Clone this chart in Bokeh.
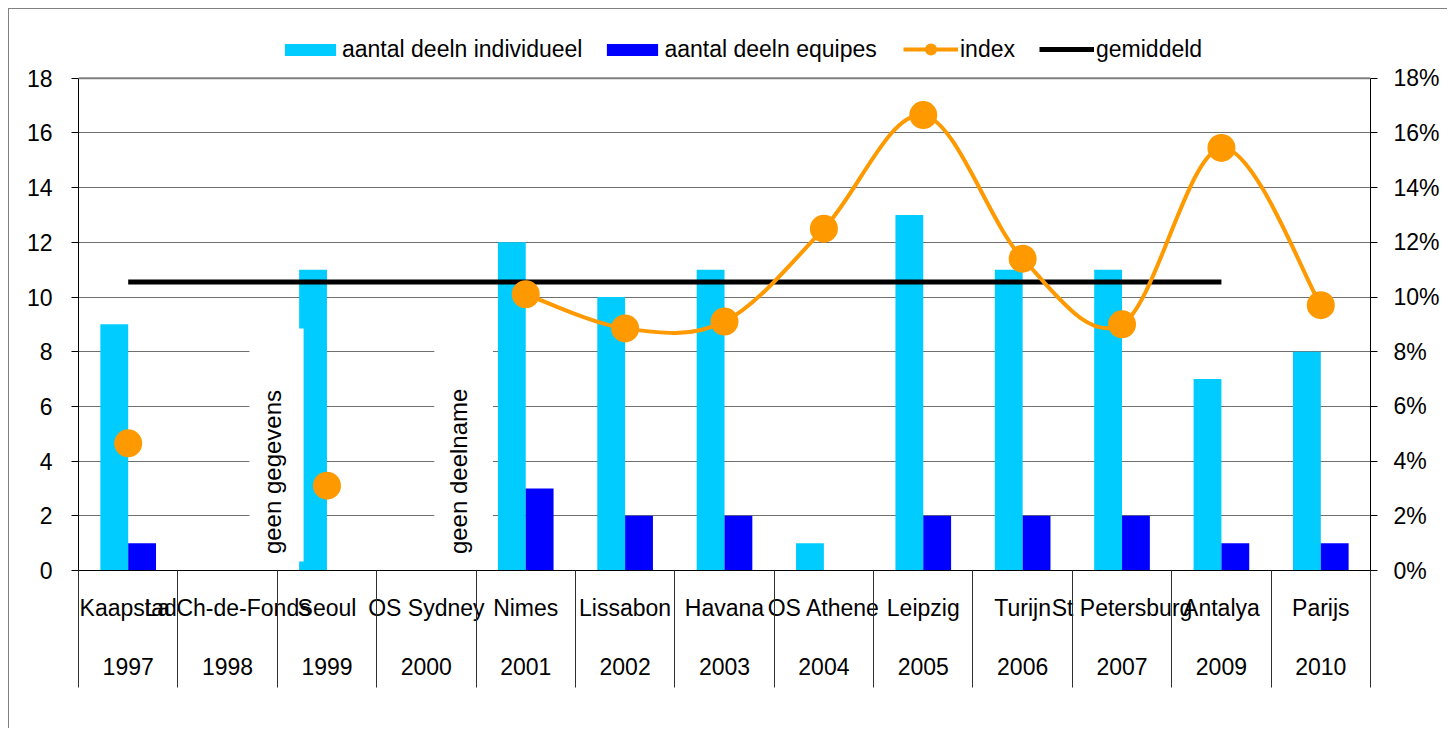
import numpy as np
from bokeh.plotting import figure
from bokeh.models import (Range1d, LinearAxis, FixedTicker, PrintfTickFormatter, Span,
                          ColumnDataSource, Label, BoxAnnotation, Legend, LegendItem)
from bokeh.transform import dodge
from bokeh.embed import file_html
from bokeh.resources import INLINE

# ---------------- data ----------------
cities = ["Kaapstad", "La Ch-de-Fonds", "Seoul", "OS Sydney", "Nimes", "Lissabon", "Havana",
          "OS Athene", "Leipzig", "Turijn", "St Petersburg", "Antalya", "Parijs"]
years = ["1997", "1998", "1999", "2000", "2001", "2002", "2003", "2004", "2005", "2006",
         "2007", "2009", "2010"]
individueel = [9, None, 11, None, 12, 10, 11, 1, 13, 11, 11, 7, 8]
equipes = [1, None, 0, None, 3, 2, 2, 0, 2, 2, 2, 1, 1]
index_pct = [4.65, None, 3.1, None, 10.1, 8.85, 9.1, 12.5, 16.65, 11.4, 9.0, 15.45, 9.7]
gemiddeld = [10.55, 10.55, 10.55, 10.55, 10.55, 10.55, 10.55, 10.55, 10.55, 10.55, 10.55, 10.55, None]
left_ticks = [0, 2, 4, 6, 8, 10, 12, 14, 16, 18]
right_ticks = [0, 2, 4, 6, 8, 10, 12, 14, 16, 18]

FONT = "Liberation Sans"
FS = "23px"
C_IND = "#00CCFF"
C_EQ = "#0000FF"
C_IDX = "#FF9900"

n = len(cities)
xs = np.arange(n) + 0.5
centre_ticks = [float(x) for x in xs]
edge_ticks = list(range(n + 1))
Y_TOP = 18      # axis maximum
Y_ROOM = 20     # range end, leaves room for the legend inside the frame

p = figure(width=1439, height=720, x_range=Range1d(0, n), y_range=Range1d(0, Y_ROOM),
           output_backend="svg", toolbar_location=None,
           min_border_left=69, min_border_right=78, min_border_top=14, min_border_bottom=159,
           background_fill_color="white", border_fill_color="white")
p.styles = {"border-left": "1px solid #808080", "border-top": "1px solid #808080",
            "margin-left": "8px", "margin-top": "8px"}
p.outline_line_color = None
p.extra_y_ranges = {"pct": Range1d(0, Y_ROOM)}

# grid
p.xgrid.visible = False
p.ygrid.ticker = FixedTicker(ticks=left_ticks)
p.ygrid.grid_line_color = "#707070"
p.ygrid.grid_line_width = 1
p.add_layout(Span(location=Y_TOP, dimension="width", line_color="#808080", line_width=2))

def style_axis(ax, standoff):
    ax.major_label_standoff = standoff
    ax.major_label_text_font = FONT
    ax.major_label_text_font_size = FS
    ax.major_label_text_color = "black"
    ax.minor_tick_out = 0
    ax.minor_tick_in = 0

# left axis
ya = p.yaxis[0]
ya.ticker = FixedTicker(ticks=left_ticks)
ya.bounds = (0, Y_TOP)
ya.major_tick_out = 7
ya.major_tick_in = 0
ya.axis_line_color = "black"
ya.major_tick_line_color = "black"
style_axis(ya, 19)

# right axis
ra = LinearAxis(y_range_name="pct", ticker=FixedTicker(ticks=right_ticks),
                formatter=PrintfTickFormatter(format="%d%%"), bounds=(0, Y_TOP))
ra.major_tick_out = 7
ra.major_tick_in = 0
ra.axis_line_color = "black"
ra.major_tick_line_color = "black"
style_axis(ra, 16)
p.add_layout(ra, "right")

# bottom row 1: city names
xa = p.xaxis[0]
xa.ticker = FixedTicker(ticks=centre_ticks)
xa.major_label_overrides = {t: c for t, c in zip(centre_ticks, cities)}
xa.major_tick_out = 0
xa.major_tick_in = 0
xa.axis_line_color = "black"
style_axis(xa, 24)

# bottom row 2: years
xa2 = LinearAxis(ticker=FixedTicker(ticks=centre_ticks))
xa2.major_label_overrides = {t: y for t, y in zip(centre_ticks, years)}
xa2.major_tick_out = 0
xa2.major_tick_in = 0
xa2.axis_line_color = None
style_axis(xa2, 34)
p.add_layout(xa2, "below")

# outermost: category separators drawn as inward ticks
xa3 = LinearAxis(ticker=FixedTicker(ticks=edge_ticks))
xa3.major_label_overrides = {t: "" for t in edge_ticks}
xa3.major_tick_out = 10
xa3.major_tick_in = 107
xa3.major_tick_line_color = "#303030"
xa3.axis_line_color = None
style_axis(xa3, 0)
p.add_layout(xa3, "below")

# bars
ind_src = ColumnDataSource(dict(x=[xs[i] for i, v in enumerate(individueel) if v],
                                top=[v for v in individueel if v]))
eq_src = ColumnDataSource(dict(x=[xs[i] for i, v in enumerate(equipes) if v],
                               top=[v for v in equipes if v]))
r_ind = p.vbar(x=dodge("x", -0.14, range=p.x_range), top="top", width=0.28, bottom=0,
               source=ind_src, fill_color=C_IND, line_color=None)
r_eq = p.vbar(x=dodge("x", 0.14, range=p.x_range), top="top", width=0.28, bottom=0,
              source=eq_src, fill_color=C_EQ, line_color=None)

# gemiddeld
gx = [xs[i] for i, v in enumerate(gemiddeld) if v is not None]
gy = [v for v in gemiddeld if v is not None]
r_gem = p.line(gx, gy, y_range_name="pct", line_color="black", line_width=5)

# index: smoothed line over consecutive runs (Catmull-Rom style Bezier)
runs, cur = [], []
for i, v in enumerate(index_pct):
    if v is None:
        if cur:
            runs.append(cur)
        cur = []
    else:
        cur.append((xs[i], v))
if cur:
    runs.append(cur)
bz = dict(x0=[], y0=[], x1=[], y1=[], cx0=[], cy0=[], cx1=[], cy1=[])
for run in runs:
    m = len(run)
    for k in range(m - 1):
        P0 = np.array(run[k - 1] if k > 0 else run[k])
        P1 = np.array(run[k])
        P2 = np.array(run[k + 1])
        P3 = np.array(run[k + 2] if k + 2 < m else run[k + 1])
        c1 = P1 + (P2 - P0) / 6.0
        c2 = P2 - (P3 - P1) / 6.0
        bz["x0"].append(P1[0]); bz["y0"].append(P1[1])
        bz["x1"].append(P2[0]); bz["y1"].append(P2[1])
        bz["cx0"].append(c1[0]); bz["cy0"].append(c1[1])
        bz["cx1"].append(c2[0]); bz["cy1"].append(c2[1])
r_bz = p.bezier(x0="x0", y0="y0", x1="x1", y1="y1", cx0="cx0", cy0="cy0", cx1="cx1", cy1="cy1",
                source=ColumnDataSource(bz), y_range_name="pct", line_color=C_IDX, line_width=4)
ix = [xs[i] for i, v in enumerate(index_pct) if v is not None]
iy = [v for v in index_pct if v is not None]
r_sc = p.scatter(ix, iy, y_range_name="pct", size=28, fill_color=C_IDX, line_color=None)

# white note boxes with vertical text
for (l, r, tx, txt) in [(1.72, 2.265, 1.95, "geen gegevens"), (3.58, 4.17, 3.82, "geen deelname")]:
    p.add_layout(BoxAnnotation(left=l, right=r, bottom=0.33, top=8.85, fill_color="white",
                               fill_alpha=1.0, line_color=None))
    p.add_layout(Label(x=tx, y=0.6, text=txt, angle=np.pi / 2, text_align="left",
                       text_baseline="middle", text_font=FONT, text_font_size="24px",
                       text_color="black"))

# legends (inside the frame's top strip)
common = dict(orientation="horizontal", padding=0, margin=0, border_line_color=None,
              background_fill_alpha=0, label_text_font=FONT, label_text_font_size=FS,
              label_text_color="black")
legA = Legend(items=[LegendItem(label="aantal deeln individueel", renderers=[r_ind]),
                     LegendItem(label="aantal deeln equipes", renderers=[r_eq])],
              location=(200, 507), glyph_width=64, glyph_height=15, label_standoff=0,
              spacing=18, **common)
legB = Legend(items=[LegendItem(label="index", renderers=[r_bz, r_sc]),
                     LegendItem(label="gemiddeld", renderers=[r_gem])],
              location=(825, 506), glyph_width=55, glyph_height=30, label_standoff=2,
              spacing=24, **common)
p.add_layout(legA)
p.add_layout(legB)

open("out.html", "w").write(file_html(p, INLINE))
